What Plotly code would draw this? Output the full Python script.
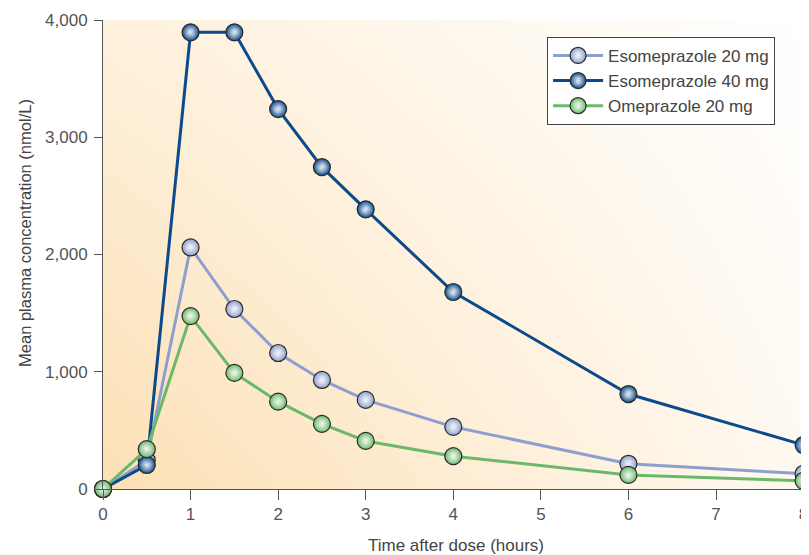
import base64, struct, zlib
import plotly.graph_objects as go

time_h = [0, 0.5, 1, 1.5, 2, 2.5, 3, 4, 6, 8]
esome_20 = [0, 245, 2060, 1535, 1160, 930, 760, 530, 215, 130]
esome_40 = [0, 205, 3895, 3895, 3240, 2745, 2385, 1680, 810, 375]
omep_20 = [0, 340, 1475, 990, 745, 555, 410, 280, 120, 70]

series = [
    ("Esomeprazole 20 mg", esome_20, "#8d9fcf"),
    ("Esomeprazole 40 mg", esome_40, "#0d4a8c"),
    ("Omeprazole 20 mg", omep_20, "#6cb86a"),
]
x_ticks = [0, 1, 2, 3, 4, 5, 6, 7, 8]
y_ticks = [0, 1000, 2000, 3000, 4000]
y_tick_text = ["0", "1,000", "2,000", "3,000", "4,000"]
x_title = "Time after dose (hours)"
y_title = "Mean plasma concentration (nmol/L)"


def gradient_png(w, h):
    c0 = (252, 223, 178)  # warm corner
    c1 = (255, 255, 255)
    rows = []
    for j in range(h):
        row = bytearray([0])
        fy = 1 - j / (h - 1)
        for i in range(w):
            fx = i / (w - 1)
            t = 0.04 + 0.78 * fx + 0.52 * fy - 0.34 * fx * fy
            t = min(1.0, max(0.0, t))
            for k in range(3):
                row.append(int(round(c0[k] + (c1[k] - c0[k]) * t)))
        rows.append(bytes(row))
    raw = b"".join(rows)

    def chunk(tag, data):
        c = struct.pack(">I", len(data)) + tag + data
        return c + struct.pack(">I", zlib.crc32(tag + data) & 0xFFFFFFFF)

    png = b"\x89PNG\r\n\x1a\n"
    png += chunk(b"IHDR", struct.pack(">IIBBBBB", w, h, 8, 2, 0, 0, 0))
    png += chunk(b"IDAT", zlib.compress(raw, 9))
    png += chunk(b"IEND", b"")
    return "data:image/png;base64," + base64.b64encode(png).decode()


fig = go.Figure()
for name, vals, color in series:
    fig.add_trace(go.Scatter(
        x=time_h, y=vals, name=name, mode="lines+markers",
        line=dict(color=color, width=3),
        marker=dict(size=17, color=color,
                    gradient=dict(type="radial", color="rgba(255,255,255,0.9)"),
                    line=dict(color="#2a2a2a", width=1.2)),
        cliponaxis=False,
    ))

font_main = "Liberation Sans, Arial, sans-serif"
fig.update_layout(
    width=801, height=547,
    margin=dict(l=95, r=0, t=12, b=66),
    paper_bgcolor="white", plot_bgcolor="rgba(0,0,0,0)",
    font=dict(family=font_main, size=16, color="#555555"),
    showlegend=True,
    legend=dict(
        x=0.629, y=0.964, xanchor="left", yanchor="top",
        bgcolor="white", bordercolor="#444444", borderwidth=1,
        font=dict(size=17, color="#444444"),
        traceorder="normal", itemwidth=50,
        tracegroupgap=0,
    ),
    images=[dict(
        source=gradient_png(200, 140), xref="paper", yref="paper",
        x=0, y=1, sizex=1, sizey=1, sizing="stretch", layer="below",
        xanchor="left", yanchor="top",
    )],
    annotations=[dict(
        text=y_title, textangle=-90, xref="paper", yref="paper",
        x=-0.1105, y=0.546, xanchor="center", yanchor="middle",
        showarrow=False, font=dict(size=16.5, color="#444444"),
    )],
    xaxis=dict(
        range=[0, 8.062], tickvals=x_ticks, ticks="outside", ticklen=10,
        tickcolor="#555555", showgrid=False, zeroline=False,
        showline=True, linecolor="#555555", linewidth=1,
        ticklabeloverflow="allow",
        tickfont=dict(size=17, color="#555555"),
        title=dict(text=x_title, font=dict(size=17, color="#444444"), standoff=16),
    ),
    yaxis=dict(
        range=[0, 4000], tickvals=y_ticks, ticktext=y_tick_text, ticks="outside",
        ticklen=8, tickcolor="#555555", showgrid=False, zeroline=False,
        showline=True, linecolor="#555555", linewidth=1,
        ticklabelstandoff=3,
        tickfont=dict(size=17, color="#555555"),
    ),
)

fig.write_html("out.html")
